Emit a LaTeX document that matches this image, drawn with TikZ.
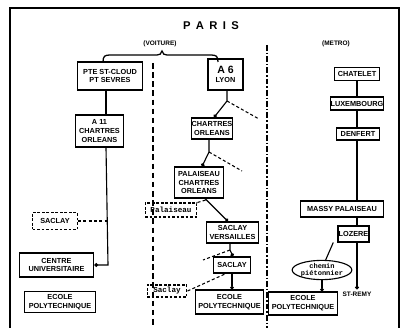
\documentclass[tikz,border=0pt]{standalone}
\usepackage{fontspec}
\setmainfont{Liberation Sans}
\newfontfamily\monof{Liberation Mono}
\usetikzlibrary{arrows.meta,shapes.geometric}
\tikzset{
  sz/.style 2 args={minimum width=#1*0.7087pt, minimum height=#2*0.7087pt},
  box/.style={draw, line width=0.8pt, inner sep=0pt, align=center,
    font=\bfseries\fontsize{5.2}{6.2}\selectfont},
  dbox/.style={draw, line width=0.8pt, dash pattern=on 2pt off 1.2pt, inner sep=0pt,
    align=center, font=\monof\bfseries\fontsize{5.4}{6}\selectfont},
  link/.style={line width=0.8pt},
  dotarrow/.style={line width=0.8pt, -{Circle[length=2.6pt]}},
  dlink/.style={line width=0.75pt, dash pattern=on 2.2pt off 1.6pt},
  sep1/.style={line width=0.8pt, dash pattern=on 4pt off 2.5pt},
  sep2/.style={line width=1pt, dash pattern=on 4pt off 1.5pt on 1pt off 1.5pt},
  lbl/.style={inner sep=0pt, font=\bfseries\fontsize{4.6}{5}\selectfont}
}
\begin{document}
\begin{tikzpicture}[x=0.025cm,y=-0.025cm]
\useasboundingbox (0,0) rectangle (408,328);
% frame
\draw[line width=0.9pt] (10,328) -- (10,8) -- (399,8) -- (399,328);
\node[inner sep=0pt, font=\bfseries\fontsize{8}{9}\selectfont] (title) at (211,26)
  {P\hspace{3.8pt}A\hspace{3.8pt}R\hspace{3.8pt}I\hspace{3.8pt}S};
\node[lbl] (voit) at (160,44) {(VOITURE)};
\node[lbl] (metro) at (336,44) {(METRO)};
% brace
\draw[line width=0.9pt] (103,62) .. controls (103,56) and (105,55) .. (110,55)
  -- (157,55) .. controls (160,55) and (161,54) .. (162,51)
  .. controls (163,54) and (164,55) .. (167,55) -- (211,55)
  .. controls (216,55) and (218,56) .. (218,62);
% separators
\coordinate (s1a) at (153,63); \coordinate (s1b) at (153,328);
\coordinate (s2a) at (267,45); \coordinate (s2b) at (267,328);
\draw[sep1] (s1a) -- (s1b);
\draw[sep2] (s2a) -- (s2b);

% left column
\node[box, sz={66}{28}] (pte) at (110,76) {PTE ST-CLOUD\\PT SEVRES};
\node[box, sz={49}{32}] (a11) at (99.5,131) {A 11\\CHARTRES\\ORLEANS};
\node[dbox, sz={45}{17}, font=\bfseries\fontsize{5.2}{6}\selectfont] (saclayL) at (55,221) {SACLAY};
\node[box, sz={75}{24}] (centre) at (56.5,265) {CENTRE\\UNIVERSITAIRE};
\node[box, sz={72}{21}] (ecoleL) at (60,302) {ECOLE\\POLYTECHNIQUE};
\coordinate (lx) at (106,0);
\coordinate (bendL) at (108,265);
\draw[link] (pte.south -| lx) -- (a11.north -| lx);
\draw[dotarrow] (a11.south -| lx) -- (bendL) -- (centre.east);
\draw[dlink] (saclayL.east) -- (saclayL.east -| bendL);

% middle column
\node[box, sz={35}{31}] (a6) at (225.5,74.5) {{\fontsize{7.5}{8}\selectfont A 6}\\LYON};
\node[box, sz={42}{21}] (chartres) at (212,128.5) {CHARTRES\\ORLEANS};
\node[box, sz={50}{31}] (palaiseau) at (199,182.5) {PALAISEAU\\CHARTRES\\ORLEANS};
\node[dbox, sz={52}{14}] (palbox) at (171,210) {Palaiseau};
\node[box, sz={53}{21}] (sv) at (232.5,232.5) {SACLAY\\VERSAILLES};
\node[box, sz={38}{16}] (saclayM) at (232,265) {SACLAY};
\node[dbox, sz={40}{12}] (saclaybox) at (167,291) {Saclay};
\node[box, sz={69}{24}] (ecoleM) at (229.5,302) {ECOLE\\POLYTECHNIQUE};

\coordinate (k1) at (227,101);
\coordinate (d1) at (259,119);
\coordinate (k2) at (209,152);
\coordinate (d2) at (242,171);
\coordinate (k3) at (230,250);
\coordinate (d3) at (203,260);
\coordinate (p1) at (206,200);
\draw[dotarrow] (a6.south -| k1) -- (k1) -- (chartres.north -| 214,0);
\draw[dlink] (k1) -- (d1);
\draw[dotarrow] (chartres.south -| k2) -- (k2) -- (palaiseau.north -| 202,0);
\draw[dlink] (k2) -- (d2);
\draw[dotarrow] (palaiseau.south -| 205,0) -- (sv.north -| 228,0);
\draw[dlink] (palbox.north east) -- (p1);
\draw[dotarrow] (sv.south -| k3) -- (k3) -- (saclayM.north -| 233,0);
\draw[dlink] (k3) -- (d3);
\draw[dlink] (saclaybox.east) -- (saclayM.235);
\draw[dotarrow] (saclayM.south) -- (saclayM.south |- ecoleM.north);

% right column (metro)
\node[box, sz={46}{13}] (chatelet) at (357,74) {CHATELET};
\node[box, sz={51}{13}] (luxembourg) at (357,103.5) {LUXEMBOURG};
\node[box, sz={43}{12}] (denfert) at (358,134) {DENFERT};
\node[box, sz={84}{16}] (massy) at (342,209) {MASSY PALAISEAU};
\node[box, sz={31}{16}] (lozere) at (353.5,234) {LOZERE};
\node[draw, ellipse, line width=0.8pt, inner sep=0pt, sz={59}{16}, align=center,
  font=\monof\bfseries\fontsize{5}{5}\selectfont] (ell) at (322,270) {chemin\\piétonnier};
\node[box, sz={70}{23}] (ecoleR) at (303,303.5) {ECOLE\\POLYTECHNIQUE};
\node[lbl] (stremy) at (357,294) {ST-REMY};
\coordinate (mx) at (357,0);
\draw[link] (chatelet.south -| mx) -- (luxembourg.north -| mx);
\draw[link] (luxembourg.south -| mx) -- (denfert.north -| mx);
\draw[link] (denfert.south -| mx) -- (massy.north -| mx);
\draw[link] (massy.south -| mx) -- (lozere.north -| mx);
\draw[dotarrow] (lozere.south -| mx) -- ([yshift=1.5pt]stremy.north -| mx);
\draw[link] ([xshift=-3pt]lozere.south west) -- (ell.70);
\draw[dotarrow] (ell.south) -- (ell.south |- ecoleR.north);
\end{tikzpicture}
\end{document}
